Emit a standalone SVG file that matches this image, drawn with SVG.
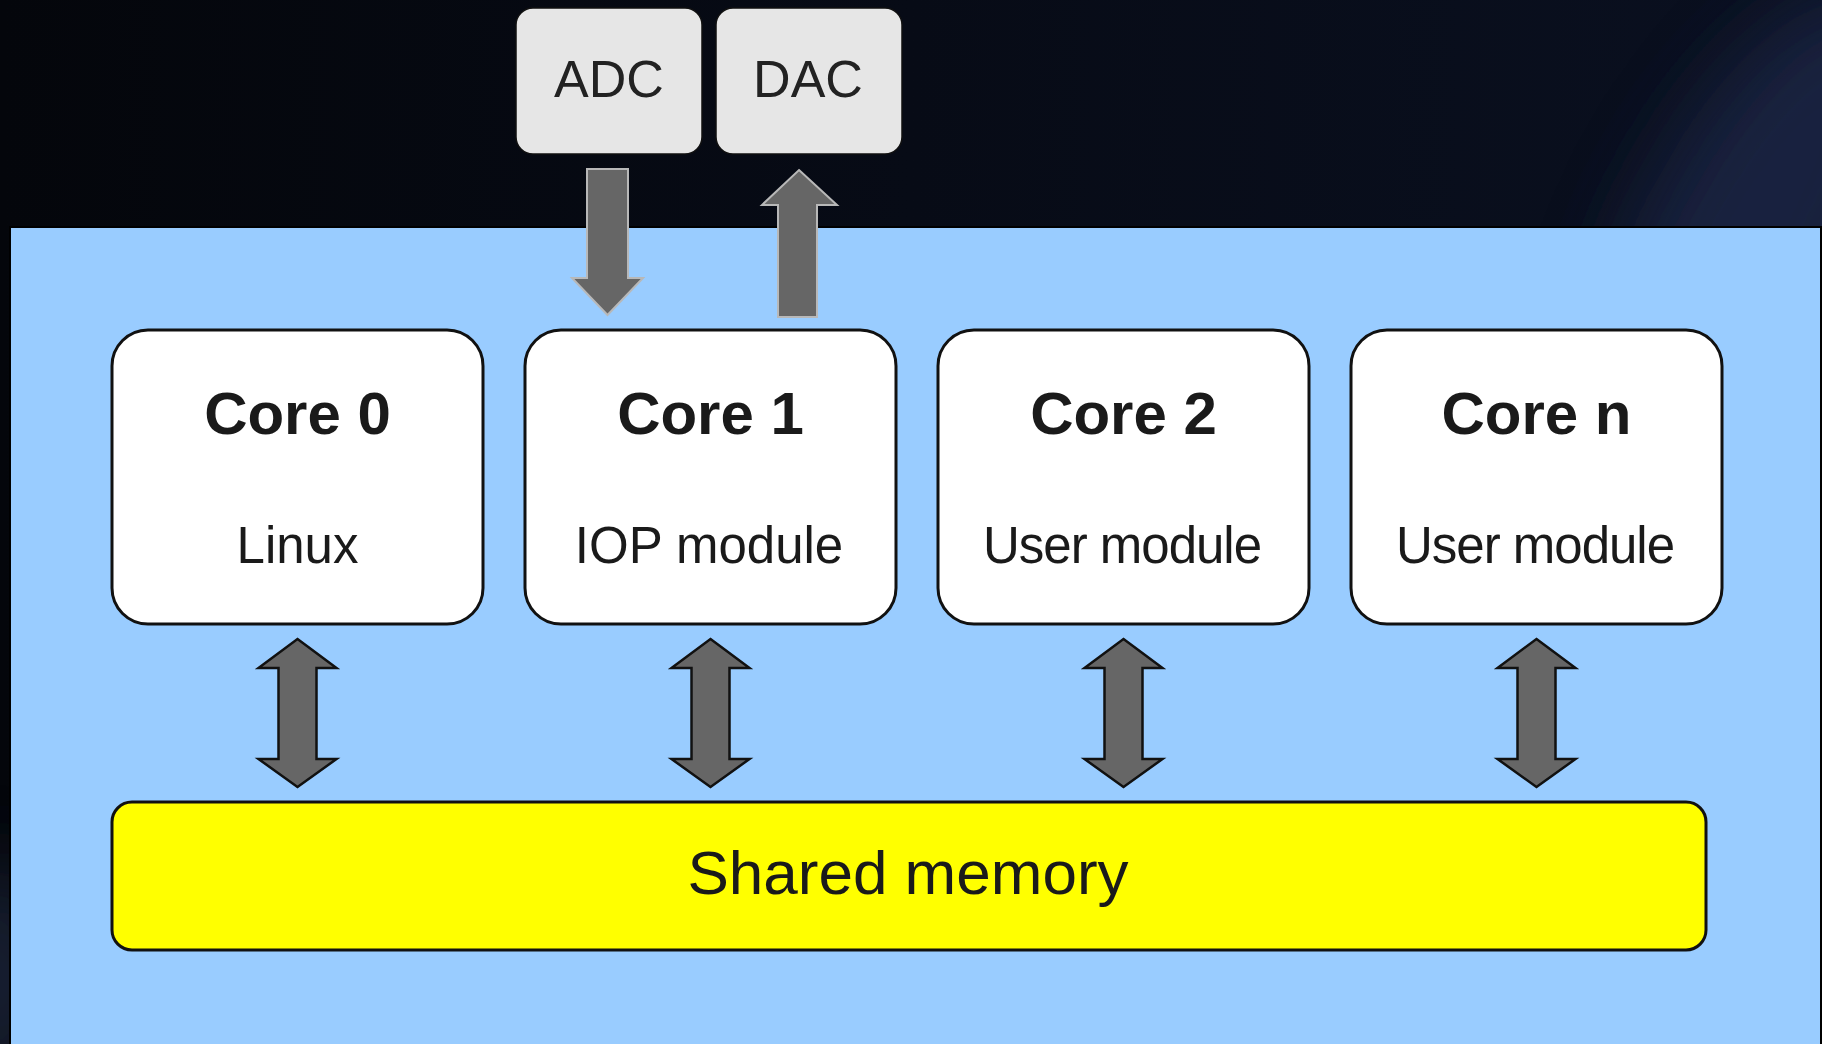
<svg xmlns="http://www.w3.org/2000/svg" width="1822" height="1044" viewBox="0 0 1822 1044">
  <defs>
    <linearGradient id="bg" x1="0" y1="0" x2="1" y2="0">
      <stop offset="0" stop-color="#04060b"/>
      <stop offset="0.5" stop-color="#070b16"/>
      <stop offset="1" stop-color="#0a1020"/>
    </linearGradient>
    <filter id="blur" x="-50%" y="-50%" width="200%" height="200%">
      <feGaussianBlur stdDeviation="40"/>
    </filter>
    <style>
      .io { fill: #e6e6e6; stroke: #111; stroke-width: 1.5; }
      .io-text { font-family: "Liberation Sans", Arial, sans-serif; font-size: 52px; fill: #222; text-anchor: middle; }
      .core { fill: #ffffff; stroke: #111; stroke-width: 3; }
      .core-title { font-family: "Liberation Sans", Arial, sans-serif; font-size: 60px; font-weight: bold; fill: #1a1a1a; text-anchor: middle; }
      .core-sub { font-family: "Liberation Sans", Arial, sans-serif; font-size: 51px; fill: #1a1a1a; text-anchor: middle; }
      .mem { fill: #ffff00; stroke: #111; stroke-width: 3; }
      .mem-text { font-family: "Liberation Sans", Arial, sans-serif; font-size: 62px; fill: #1a1a1a; text-anchor: middle; }
      .arrow-io { fill: #666666; stroke: #b8b8b8; stroke-width: 2; }
      .arrow-bi { fill: #666666; stroke: #111; stroke-width: 2.5; stroke-linejoin: miter; }
    </style>
  </defs>

  <!-- background -->
  <rect x="0" y="0" width="1822" height="1044" fill="url(#bg)"/>
  <ellipse cx="1760" cy="220" rx="110" ry="260" fill="#1e2846" opacity="0.8" filter="url(#blur)" transform="rotate(30 1760 220)"/>
  <ellipse cx="0" cy="980" rx="40" ry="120" fill="#26304e" opacity="0.8" filter="url(#blur)"/>

  <!-- main panel -->
  <rect id="panel" x="10" y="227" width="1811" height="830" fill="#99ccff" stroke="#000" stroke-width="2"/>

  <g id="node-adc">
    <rect class="io" x="516" y="8" width="186" height="146" rx="17"/>
    <text class="io-text" x="609" y="97">ADC</text>
  </g>
  <g id="node-dac">
    <rect class="io" x="716" y="8" width="186" height="146" rx="17"/>
    <text class="io-text" x="808" y="97">DAC</text>
  </g>

  <g id="node-core0">
    <rect class="core" x="112" y="330" width="371" height="294" rx="36"/>
    <text class="core-title" x="297.5" y="434">Core 0</text>
    <text class="core-sub" x="297.5" y="563">Linux</text>
  </g>
  <g id="node-core1">
    <rect class="core" x="525" y="330" width="371" height="294" rx="36"/>
    <text class="core-title" x="710.5" y="434">Core 1</text>
    <text class="core-sub" x="709" y="563">IOP module</text>
  </g>
  <g id="node-core2">
    <rect class="core" x="938" y="330" width="371" height="294" rx="36"/>
    <text class="core-title" x="1123.5" y="434">Core 2</text>
    <text class="core-sub" x="1122" y="563" letter-spacing="-1">User module</text>
  </g>
  <g id="node-coren">
    <rect class="core" x="1351" y="330" width="371" height="294" rx="36"/>
    <text class="core-title" x="1536.5" y="434">Core n</text>
    <text class="core-sub" x="1535" y="563" letter-spacing="-1">User module</text>
  </g>

  <g id="node-memory">
    <rect class="mem" x="112" y="802" width="1594" height="148" rx="20"/>
    <text class="mem-text" x="908" y="894">Shared memory</text>
  </g>

  <g id="connectors">
    <!-- ADC -> Core 1 (down) -->
    <polygon class="arrow-io" points="587,169 628,169 628,278 643,278 607.5,315 572,278 587,278"/>
    <!-- Core 1 -> DAC (up) -->
    <polygon class="arrow-io" points="799,170 837,205 817,205 817,317 778,317 778,205 762,205"/>
    <!-- Core <-> Shared memory -->
    <polygon class="arrow-bi" points="297.5,639 336.5,668 316.5,668 316.5,759 336.5,759 297.5,787 258.5,759 278.5,759 278.5,668 258.5,668"/>
    <polygon class="arrow-bi" points="710.5,639 749.5,668 729.5,668 729.5,759 749.5,759 710.5,787 671.5,759 691.5,759 691.5,668 671.5,668"/>
    <polygon class="arrow-bi" points="1123.5,639 1162.5,668 1142.5,668 1142.5,759 1162.5,759 1123.5,787 1084.5,759 1104.5,759 1104.5,668 1084.5,668"/>
    <polygon class="arrow-bi" points="1536.5,639 1575.5,668 1555.5,668 1555.5,759 1575.5,759 1536.5,787 1497.5,759 1517.5,759 1517.5,668 1497.5,668"/>
  </g>
</svg>
